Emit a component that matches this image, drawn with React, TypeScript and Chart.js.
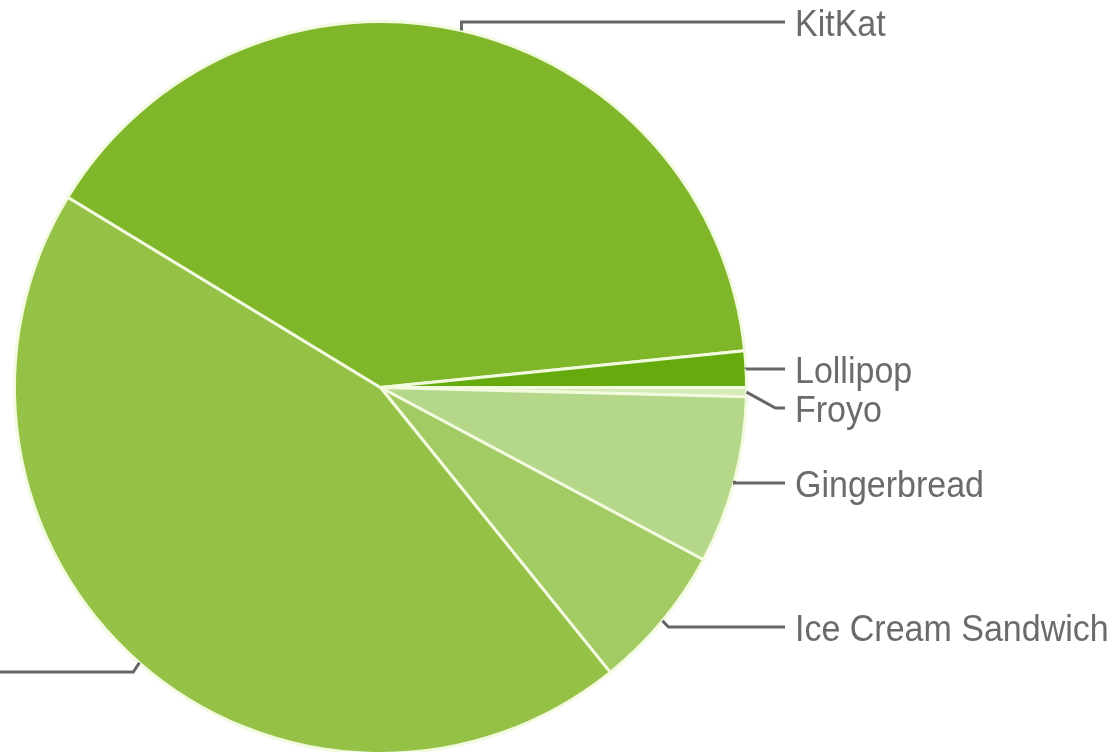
import React, { useEffect, useRef } from "react";
import { Chart, registerables } from "chart.js";

Chart.register(...registerables);

const categories = ["Froyo", "Gingerbread", "Ice Cream Sandwich", "Jelly Bean", "KitKat", "Lollipop"];
const shares = [0.4, 7.4, 6.4, 44.5, 39.7, 1.6];
const sliceColors = ["#d6eab8", "#b4d78a", "#a3cb63", "#94c146", "#80b629", "#66ab0e"];

// leader-line layout: line y of each label and the x shift of the bend point
const labelY = [408, 483, 627, 672, 22, 369];
const bendDX = [29, 0, 6, -6, 0, 0];
const labelSide = [1, 1, 1, -1, 1, 1];

const labelPlugin = {
  id: "leaderLabels",
  afterDatasetsDraw(chart: any) {
    const ctx = chart.ctx;
    const meta = chart.getDatasetMeta(0);
    ctx.save();
    ctx.strokeStyle = "#666666";
    ctx.lineWidth = 3;
    ctx.fillStyle = "#6b6b6b";
    ctx.font = "34px 'Liberation Sans', Arial, sans-serif";
    ctx.textBaseline = "middle";
    meta.data.forEach((arc: any, i: number) => {
      const { x, y, startAngle, endAngle, outerRadius } = arc.getProps(
        ["x", "y", "startAngle", "endAngle", "outerRadius"],
        true
      );
      const mid = (startAngle + endAngle) / 2;
      const ax = x + Math.cos(mid) * outerRadius;
      const ay = y + Math.sin(mid) * outerRadius;
      const ly = labelY[i];
      const bx = ax + bendDX[i];
      const side = labelSide[i];
      const endX = side > 0 ? 785 : -10;
      ctx.beginPath();
      ctx.moveTo(ax, ay);
      ctx.lineTo(bx, ly);
      ctx.lineTo(endX, ly);
      ctx.stroke();
      ctx.textAlign = side > 0 ? "left" : "right";
      ctx.save();
      ctx.translate(side > 0 ? endX + 10 : endX - 10, ly + 4);
      ctx.scale(1, 1.08);
      ctx.fillText(categories[i], 0, 0);
      ctx.restore();
    });
    ctx.restore();
  },
};

export default function App() {
  const ref = useRef<HTMLCanvasElement>(null);
  useEffect(() => {
    if (!ref.current) return;
    const chart = new Chart(ref.current, {
      type: "pie",
      data: {
        labels: categories,
        datasets: [
          {
            data: shares,
            backgroundColor: sliceColors,
            borderColor: "#f2fadf",
            borderWidth: 3,
          },
        ],
      },
      options: {
        responsive: false,
        maintainAspectRatio: false,
        animation: false,
        rotation: 90,
        layout: { padding: { left: 13, right: 370, top: 20, bottom: 21 } },
        plugins: {
          legend: { display: false },
          tooltip: { enabled: false },
        },
      },
      plugins: [labelPlugin],
    });
    return () => chart.destroy();
  }, []);
  return (
    <div
      style={{
        position: "fixed",
        left: 0,
        top: 0,
        width: 1118,
        height: 752,
        overflow: "hidden",
        background: "#ffffff",
      }}
    >
      <canvas
        ref={ref}
        width={1118}
        height={776}
        style={{ position: "absolute", left: 0, top: 0, width: 1118, height: 776 }}
      />
    </div>
  );
}
